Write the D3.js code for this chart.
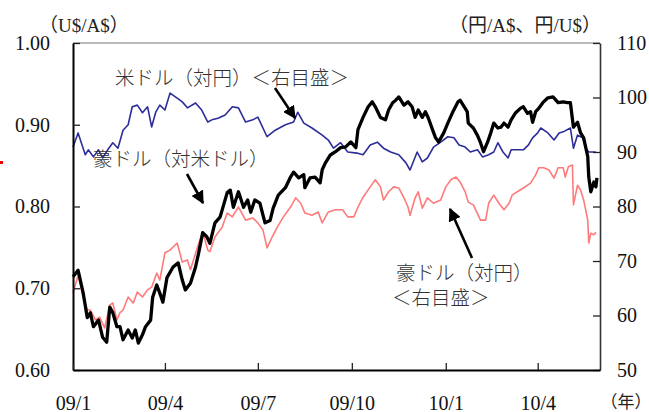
<!DOCTYPE html>
<html><head><meta charset="utf-8">
<script src="https://cdn.jsdelivr.net/npm/d3@7"></script>
<style>
body{margin:0;background:#fff;}
svg{display:block;}
.serif{font-family:"Liberation Serif","Times New Roman","DejaVu Serif",serif;}
.jpserif{font-family:"Liberation Serif","Noto Sans CJK JP",serif;}
.jp{font-family:"Noto Sans CJK JP","Noto Sans CJK SC",sans-serif;}
</style></head>
<body>
<svg id="c" width="649" height="412"></svg>
<script>
// Days since 2009-01-01 and values
const audUsdDays = [0,5,10,14,17,20,25,29,33,36,39,43,46,49,54,58,61,64,68,71,76,78,82,85,88,92,98,103,107,110,115,120,123,127,131,134,139,144,151,154,157,162,167,171,174,178,183,188,193,196,201,208,213,216,221,226,227,232,237,242,244,247,252,257,262,267,272,277,279,284,289,293,296,301,306,309,313,316,319,324,328,332,335,338,342,345,348,352,355,358,363,367,372,377,379,382,386,387,392,396,399,402,406,409,412,416,419,422,426,429,433,438,441,445,448,450,453,456,460,465,470,475,480,484,487,490,494,497,500,504,505,507,510,512,513];
const audUsd = [0.714,0.722,0.694,0.664,0.670,0.653,0.661,0.640,0.634,0.677,0.670,0.653,0.653,0.637,0.649,0.639,0.649,0.633,0.643,0.653,0.661,0.689,0.704,0.694,0.683,0.713,0.726,0.731,0.710,0.698,0.706,0.726,0.743,0.768,0.763,0.755,0.780,0.787,0.817,0.820,0.799,0.818,0.799,0.808,0.793,0.808,0.804,0.780,0.783,0.798,0.814,0.823,0.836,0.842,0.835,0.839,0.823,0.835,0.836,0.829,0.845,0.853,0.863,0.867,0.872,0.873,0.879,0.872,0.894,0.909,0.922,0.928,0.922,0.909,0.906,0.918,0.927,0.930,0.934,0.924,0.928,0.922,0.909,0.918,0.909,0.916,0.908,0.894,0.884,0.879,0.890,0.902,0.916,0.928,0.930,0.924,0.916,0.902,0.896,0.887,0.878,0.867,0.879,0.890,0.902,0.896,0.897,0.902,0.897,0.906,0.914,0.920,0.922,0.914,0.916,0.903,0.916,0.920,0.927,0.933,0.934,0.927,0.928,0.927,0.927,0.897,0.903,0.890,0.884,0.861,0.836,0.818,0.830,0.824,0.835];

const usdJpyDays = [0,5,12,15,20,25,29,34,39,44,49,54,58,63,68,73,77,81,85,90,95,102,107,112,120,126,132,136,142,149,156,162,169,176,181,190,198,208,216,220,226,234,244,250,255,262,269,278,284,291,298,304,311,319,326,330,337,342,347,353,360,367,373,378,384,389,396,401,407,412,416,421,426,429,435,441,446,450,455,458,465,471,476,480,487,490,494,499,502,505,512];
const usdJpy = [90.9,93.5,89.5,90.4,89.1,90.4,88.9,90.4,91.7,90.7,94.0,95.0,98.3,98.6,97.2,98.3,94.6,97.3,98.6,97.7,100.8,99.9,99.2,98.1,99.0,97.7,95.5,95.9,96.2,96.8,98.3,98.1,95.5,95.9,96.4,92.8,94.0,95.0,95.5,97.3,95.3,94.4,93.1,92.2,90.7,91.7,90.0,89.8,89.5,91.3,91.8,90.7,90.0,89.5,88.0,86.7,90.0,88.2,88.9,90.9,91.8,92.8,92.6,91.3,90.9,90.0,90.4,89.1,89.5,90.0,91.7,90.0,88.9,90.4,90.4,90.4,91.3,92.6,93.5,94.4,93.5,92.2,93.5,93.7,94.4,90.7,93.1,92.6,90.7,90.0,90.0];

const audJpyDays = [0,5,10,14,17,22,26,31,36,39,43,46,49,54,59,63,68,73,77,82,85,90,95,102,107,112,115,122,127,132,134,139,146,151,156,162,169,176,181,186,190,195,200,206,213,218,223,227,234,240,244,250,257,264,269,275,279,284,291,296,301,304,309,314,319,324,328,330,335,338,342,347,353,360,365,370,375,379,384,387,392,399,404,407,412,417,422,427,430,435,441,448,453,456,461,466,471,475,480,482,485,489,490,494,497,500,504,505,507,510,512];
const audJpy = [64.1,67.4,63.4,61.0,61.0,59.2,59.7,57.7,61.9,62.3,59.2,60.5,61.0,63.4,62.3,64.3,63.4,64.7,65.2,67.8,66.5,71.5,72.0,73.3,69.8,70.2,68.4,72.6,75.3,72.0,71.7,74.4,76.2,78.8,78.1,79.9,77.5,77.9,77.0,75.7,72.4,74.4,76.2,78.1,79.9,81.6,80.6,78.8,78.4,79.0,77.0,79.0,79.4,79.4,78.1,78.1,79.9,81.7,83.6,84.9,83.6,81.2,82.7,83.6,83.4,81.6,79.9,78.4,81.6,82.7,79.7,81.6,80.6,81.2,83.6,84.9,85.4,84.5,82.7,80.8,80.3,77.5,77.5,80.6,82.1,80.6,79.4,80.6,82.1,82.7,83.4,84.3,85.8,87.1,87.1,86.7,85.2,87.1,87.1,85.4,87.3,87.6,80.3,83.9,83.0,81.2,77.5,73.3,75.1,74.8,75.3];

const leftTicks = [0.60,0.70,0.80,0.90,1.00];
const rightTicks = [50,60,70,80,90,100,110];
const xTickLabels = ["09/1","09/4","09/7","09/10","10/1","10/4"];
const xTickDates = ["2009-01-01","2009-04-01","2009-07-01","2009-10-01","2010-01-01","2010-04-01"];

const start = new Date(2009,0,1);
const toDate = d => d3.timeDay.offset(start, d);

const svg = d3.select("#c");
const L=73, R=600, T=43, B=370;
const x = d3.scaleTime().domain([start, new Date(2010,5,1)]).range([L,R]);
const yL = d3.scaleLinear().domain([0.6,1.0]).range([B,T]);
const yR = d3.scaleLinear().domain([50,110]).range([B,T]);

// top border
svg.append("line").attr("x1",L).attr("x2",R).attr("y1",T).attr("y2",T)
  .attr("stroke","#777").attr("stroke-width",1);

function series(days, vals, scale, color, w){
  const pts = days.map((d,i)=>[toDate(d), vals[i]]);
  svg.append("path").datum(pts)
    .attr("fill","none").attr("stroke",color).attr("stroke-width",w)
    .attr("stroke-linejoin","round")
    .attr("d", d3.line().x(p=>x(p[0])).y(p=>scale(p[1])));
}
series(audJpyDays, audJpy, yR, "#ff7a7a", 1.6);
series(usdJpyDays, usdJpy, yR, "#2d2d9a", 1.6);
series(audUsdDays, audUsd, yL, "#000", 3.3);

// axes
const gl = svg.append("g").attr("transform",`translate(${L},0)`)
  .call(d3.axisLeft(yL).tickValues(leftTicks).tickFormat(d3.format(".2f"))
    .tickSize(-7).tickSizeOuter(0).tickPadding(23));
const gr = svg.append("g").attr("transform",`translate(${R},0)`)
  .call(d3.axisRight(yR).tickValues(rightTicks).tickFormat(d3.format("d"))
    .tickSize(-7).tickSizeOuter(0).tickPadding(17));
const gb = svg.append("g").attr("transform",`translate(0,${B})`)
  .call(d3.axisBottom(x).tickValues(xTickDates.map(s=>d3.timeParse("%Y-%m-%d")(s)))
    .tickFormat((d,i)=>xTickLabels[i]).tickSize(-7).tickSizeOuter(0).tickPadding(26));

[gl,gr,gb].forEach(g=>{
  g.attr("font-family",null).attr("font-size",null);
  g.selectAll("text").attr("class","serif").attr("font-size",20).attr("fill","#111");
  g.selectAll("line").attr("stroke","#222").attr("stroke-width",1.3);
});
gl.select(".domain").attr("stroke","#000").attr("stroke-width",2);
gb.select(".domain").attr("stroke","#000").attr("stroke-width",2);
gr.select(".domain").attr("stroke","#333").attr("stroke-width",1.6);

// axis unit labels
svg.append("text").attr("class","jpserif").attr("x",39).attr("y",32).attr("font-size",19)
  .attr("fill","#222").text("（U$/A$）");
svg.append("text").attr("class","jpserif").attr("x",601).attr("y",32).attr("text-anchor","end").attr("font-size",19)
  .attr("fill","#222").text("（円/A$、円/U$）");
svg.append("text").attr("class","jpserif").attr("x",626).attr("y",408).attr("text-anchor","middle").attr("font-size",17)
  .attr("fill","#222").text("（年）");

// annotations
const ann = [
  {lines:["米ドル（対円）＜右目盛＞"], x:115, y:85},
  {lines:["豪ドル（対米ドル）"], x:93, y:166},
  {lines:["豪ドル（対円）","＜右目盛＞"], x:396, y:280, dx:[0,-4]}
];
ann.forEach(a=>{
  const t = svg.append("text").attr("class","jp").attr("y",a.y)
    .attr("font-weight",300).attr("font-size",19.5).attr("fill","#333");
  a.lines.forEach((s,i)=>t.append("tspan").attr("x",a.x+(a.dx?a.dx[i]:0))
    .attr("dy",i===0?0:25).text(s));
});

const defs = svg.append("defs");
defs.append("marker").attr("id","ah").attr("viewBox","0 0 10 10").attr("refX",9).attr("refY",5)
  .attr("markerWidth",5).attr("markerHeight",5).attr("orient","auto")
  .append("path").attr("d","M0,0 L10,5 L0,10 z").attr("fill","#000");
const arrows = [
  [275,88,295,118],
  [187,174,203,203],
  [472,258,450,209]
];
arrows.forEach(a=>svg.append("line").attr("x1",a[0]).attr("y1",a[1]).attr("x2",a[2]).attr("y2",a[3])
  .attr("stroke","#000").attr("stroke-width",2.6).attr("marker-end","url(#ah)"));

// small red mark at left edge
svg.append("rect").attr("x",0).attr("y",161).attr("width",3).attr("height",3).attr("fill","#e00");
</script>
</body></html>
